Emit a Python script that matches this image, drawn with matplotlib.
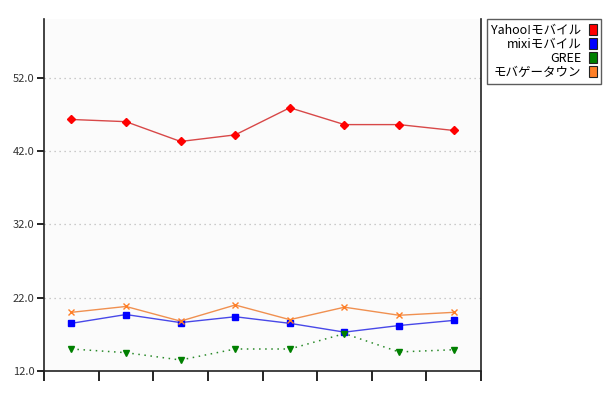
import matplotlib
matplotlib.use("Agg")
import matplotlib.pyplot as plt
from matplotlib.patches import Patch
import numpy as np

plt.rcParams['font.family'] = ['Noto Sans CJK JP', 'DejaVu Sans']

series_names = ["Yahoo!モバイル", "mixiモバイル", "GREE", "モバゲータウン"]
yahoo = [46.3, 46.0, 43.3, 44.2, 47.9, 45.6, 45.6, 44.8]
mixi = [18.5, 19.7, 18.6, 19.4, 18.5, 17.3, 18.2, 18.9]
gree = [15.0, 14.5, 13.5, 15.0, 15.0, 17.1, 14.6, 14.9]
mobage = [20.0, 20.8, 18.8, 21.0, 19.0, 20.7, 19.6, 20.0]
y_ticks = [12.0, 22.0, 32.0, 42.0, 52.0]

colors = ["#ff0000", "#0000ff", "#008000", "#ff7f27"]
line_colors = ["#d84848", "#4848e8", "#2a8a2a", "#f09050"]

fig = plt.figure(figsize=(6.1, 4.0), dpi=100, facecolor="white")
ax = fig.add_axes([44 / 610, 1 - 371 / 400, (481 - 44) / 610, (371 - 19) / 400])
ax.set_facecolor("#fbfbfb")

x = np.arange(len(yahoo))
ax.plot(x, yahoo, color=line_colors[0], lw=1.0, marker="D", ms=4,
        mfc=colors[0], mec=colors[0], zorder=3)
ax.plot(x, mixi, color=line_colors[1], lw=1.0, marker="s", ms=4.5,
        mfc=colors[1], mec=colors[1], zorder=3)
ax.plot(x, gree, color=line_colors[2], lw=1.1, ls=(0, (1, 3)), marker="v", ms=4,
        mfc=colors[2], mec=colors[2], zorder=3)
ax.plot(x, mobage, color=line_colors[3], lw=1.0, marker="x", ms=5,
        mfc=colors[3], mec=colors[3], mew=1.0, zorder=3)

ax.set_xlim(-0.5, len(yahoo) - 0.5)
ax.set_ylim(12, 60)
ax.set_xticks(np.arange(-0.5, len(yahoo) + 0.5, 1.0))
ax.set_xticklabels([])
ax.set_yticks(y_ticks)
ax.set_yticklabels([f"{v:.1f}" for v in y_ticks])
ax.tick_params(axis="y", direction="out", length=5, width=1.2, labelsize=8,
               labelcolor="#333333", pad=2)
ax.tick_params(axis="x", direction="out", length=7, width=1.2)

for v in y_ticks[1:]:
    ax.axhline(v, color="#bbbbbb", lw=0.9, ls=(0, (1, 3)), zorder=1)

ax.spines["top"].set_visible(False)
for s in ["left", "bottom", "right"]:
    ax.spines[s].set_linewidth(1.2)
    ax.spines[s].set_color("#222222")

handles = [Patch(facecolor=c, edgecolor="#222222", lw=0.8) for c in colors]
leg = fig.legend(handles, series_names, loc="upper left",
                 bbox_to_anchor=(487 / 610, 1 - 19 / 400),
                 markerfirst=False, frameon=True, fancybox=False,
                 fontsize=9, handlelength=0.6, handleheight=1.0,
                 handletextpad=0.6, labelspacing=0.1, borderpad=0.35,
                 borderaxespad=0)
leg.get_frame().set_edgecolor("#333333")
leg.get_frame().set_linewidth(1.0)
leg.get_frame().set_facecolor("white")

fig.savefig("out.png", dpi=100, facecolor="white")
